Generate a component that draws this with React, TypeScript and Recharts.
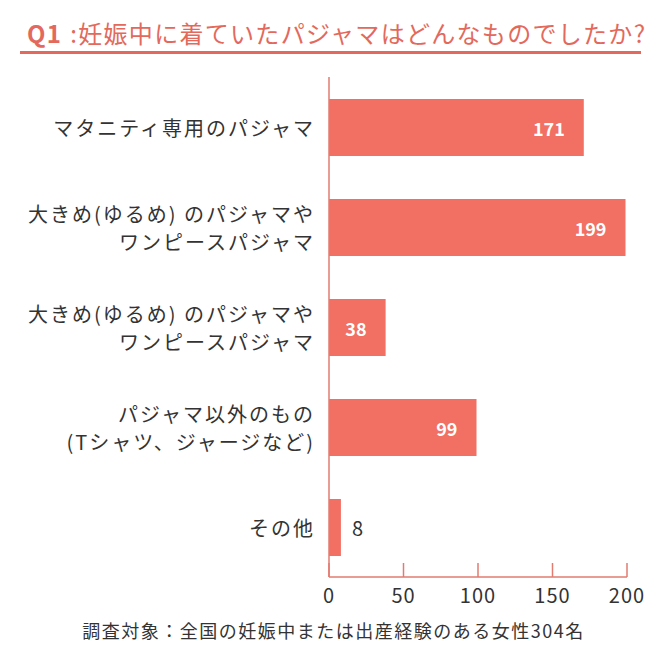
import React from 'react';
import { BarChart, Bar, XAxis, YAxis, LabelList } from 'recharts';

const title = '妊娠中に着ていたパジャマはどんなものでしたか?';
const note = '調査対象：全国の妊娠中または出産経験のある女性304名';

const categories = [
  'マタニティ専用のパジャマ',
  '大きめ(ゆるめ) のパジャマや\nワンピースパジャマ',
  '大きめ(ゆるめ) のパジャマや\nワンピースパジャマ',
  'パジャマ以外のもの\n(Tシャツ、ジャージなど)',
  'その他',
];
const values = [171, 199, 38, 99, 8];
const xTicks = [0, 50, 100, 150, 200];

const FONT = "'Noto Sans CJK JP', 'Noto Sans', sans-serif";
const BAR = '#f26f63';
const AXIS = '#e27b70';
const TEXT = '#333333';

const data = categories.map((label, i) => ({ key: `c${i}`, label, value: values[i] }));

const CategoryTick = (props: any) => {
  const { x, y, payload } = props;
  const row = data.find((d) => d.key === payload.value);
  const lines = row ? row.label.split('\n') : [];
  const lineH = 28;
  const start = y - ((lines.length - 1) * lineH) / 2;
  return (
    <text
      x={x - 14}
      y={y}
      textAnchor="end"
      fill={TEXT}
      fontSize={20}
      letterSpacing={2}
      fontFamily={FONT}
    >
      {lines.map((ln, i) => (
        <tspan key={i} x={x - 14} y={start + i * lineH} dominantBaseline="central">
          {ln}
        </tspan>
      ))}
    </text>
  );
};

const ValueTick = (props: any) => {
  const { x, y, payload } = props;
  return (
    <g>
      <line x1={x} x2={x} y1={y - 14} y2={y} stroke={AXIS} strokeWidth={1.5} />
      <text
        x={x}
        y={y + 17}
        textAnchor="middle"
        dominantBaseline="central"
        fill={TEXT}
        fontSize={20}
        letterSpacing={1}
        fontFamily={FONT}
      >
        {payload.value}
      </text>
    </g>
  );
};

const renderValue = (props: any) => {
  const { x, y, width, height, value } = props;
  const inside = value >= 20;
  return (
    <text
      x={inside ? x + width - 19 : x + width + 11}
      y={y + height / 2}
      textAnchor={inside ? 'end' : 'start'}
      dominantBaseline="central"
      fill={inside ? '#ffffff' : TEXT}
      fontWeight={inside ? 600 : 400}
      fontSize={inside ? 18 : 20}
      fontFamily={FONT}
    >
      {value}
    </text>
  );
};

export default function App() {
  return (
    <div
      style={{
        position: 'absolute',
        left: 0,
        top: 0,
        width: 667,
        height: 649,
        background: '#fff',
        fontFamily: FONT,
      }}
    >
      <div
        style={{
          position: 'absolute',
          left: 27,
          top: 16,
          whiteSpace: 'nowrap',
          color: '#e3695c',
          fontSize: 24,
          lineHeight: '34px',
          letterSpacing: 1.3,
        }}
      >
        <span style={{ fontWeight: 700 }}>Q1</span>
        <span style={{ marginLeft: 8 }}>:{title}</span>
      </div>
      <div
        style={{
          position: 'absolute',
          left: 20,
          top: 51,
          width: 621,
          height: 3,
          background: '#e3695c',
        }}
      />
      <BarChart
        width={667}
        height={649}
        data={data}
        layout="vertical"
        margin={{ top: 77, right: 40, bottom: 42, left: 0 }}
      >
        <XAxis
          type="number"
          domain={[0, 200]}
          ticks={xTicks}
          axisLine={{ stroke: AXIS, strokeWidth: 1.5 }}
          tickLine={false}
          tickSize={0}
          tickMargin={0}
          height={30}
          tick={<ValueTick />}
        />
        <YAxis
          type="category"
          dataKey="key"
          width={329}
          axisLine={{ stroke: AXIS, strokeWidth: 1.5 }}
          tickLine={false}
          tickSize={0}
          tickMargin={0}
          tick={<CategoryTick />}
        />
        <Bar dataKey="value" fill={BAR} barSize={57} isAnimationActive={false}>
          <LabelList dataKey="value" content={renderValue} />
        </Bar>
      </BarChart>
      <div
        style={{
          position: 'absolute',
          left: 0,
          top: 616,
          width: 667,
          textAlign: 'center',
          color: TEXT,
          fontSize: 18,
          lineHeight: '28px',
          letterSpacing: 1.5,
          whiteSpace: 'nowrap',
        }}
      >
        {note}
      </div>
    </div>
  );
}
